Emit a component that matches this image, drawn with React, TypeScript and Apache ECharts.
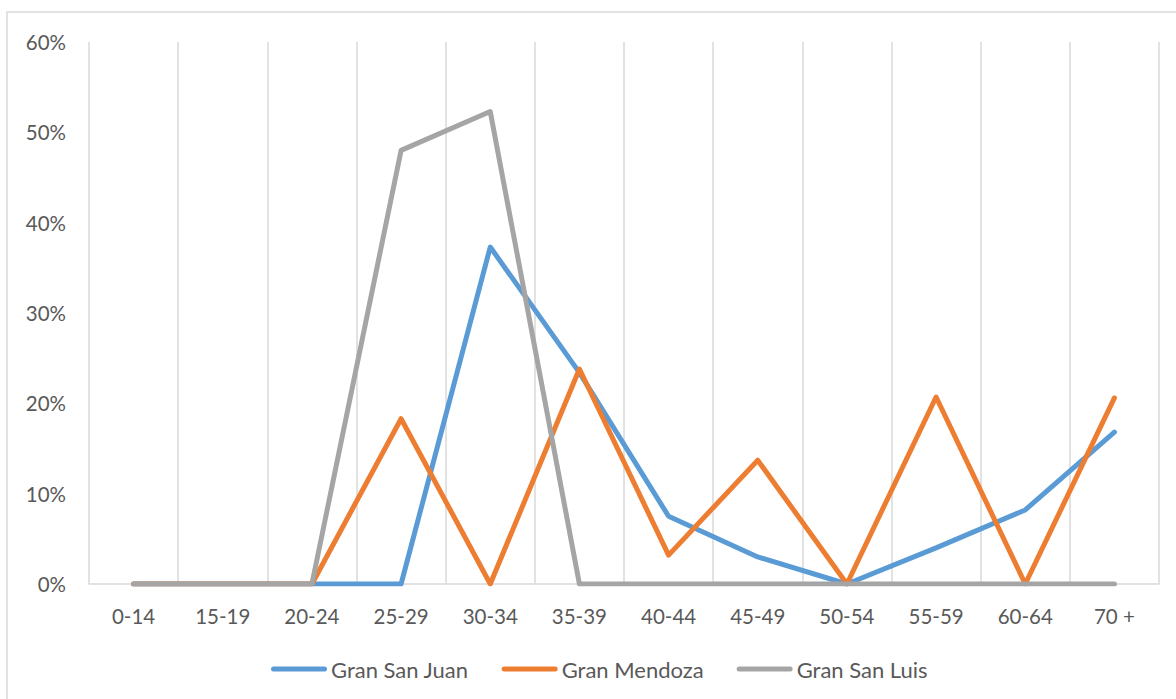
import React, { useEffect, useRef } from "react";
import * as echarts from "echarts";

const categories = ["0-14", "15-19", "20-24", "25-29", "30-34", "35-39", "40-44", "45-49", "50-54", "55-59", "60-64", "70 +"];
const sanJuan = [0, 0, 0, 0, 37.3, 23.4, 7.5, 3.0, 0, 4.0, 8.2, 16.8];
const mendoza = [0, 0, 0, 18.3, 0, 23.8, 3.2, 13.7, 0, 20.7, 0, 20.6];
const sanLuis = [0, 0, 0, 48.0, 52.3, 0, 0, 0, 0, 0, 0, 0];
const seriesNames = ["Gran San Juan", "Gran Mendoza", "Gran San Luis"];
const colors = ["#5B9BD5", "#ED7D31", "#A5A5A5"];

const FONT = "Lato, 'Open Sans', sans-serif";
const TEXT = "#595959";
const GRID = "#D9D9D9";

export default function App() {
  const ref = useRef<HTMLDivElement>(null);
  useEffect(() => {
    if (!ref.current) return;
    const chart = echarts.init(ref.current, undefined, { renderer: "svg" });
    const data = [sanJuan, mendoza, sanLuis];
    chart.setOption({
      animation: false,
      backgroundColor: "#ffffff",
      color: colors,
      graphic: [
        {
          type: "rect",
          shape: { x: 7, y: 12, width: 1300, height: 800 },
          style: { fill: "none", stroke: GRID, lineWidth: 1.5 },
          silent: true,
        },
      ],
      grid: { left: 89, right: 17, top: 42, bottom: 115 },
      legend: {
        left: 266,
        top: 653,
        itemWidth: 56,
        itemHeight: 5,
        itemGap: 33,
        icon: "path://M2.5,0 L53.5,0 A2.5,2.5 0 0 1 53.5,5 L2.5,5 A2.5,2.5 0 0 1 2.5,0 Z",
        textStyle: { color: TEXT, fontSize: 22, fontFamily: FONT, padding: [0, 0, 0, -1] },
        data: seriesNames,
      },
      xAxis: {
        type: "category",
        data: categories,
        boundaryGap: true,
        axisLine: { show: true, lineStyle: { color: GRID, width: 1.5 } },
        axisTick: { show: false },
        splitLine: { show: true, interval: 0, lineStyle: { color: GRID, width: 1.5 } },
        axisLabel: { color: TEXT, fontSize: 20.5, fontFamily: FONT, margin: 21, interval: 0 },
      },
      yAxis: {
        type: "value",
        min: 0,
        max: 60,
        interval: 10,
        axisLine: { show: false },
        axisTick: { show: false },
        splitLine: { show: false },
        axisLabel: { color: TEXT, fontSize: 20.5, fontFamily: FONT, margin: 23, formatter: "{value}%" },
      },
      series: seriesNames.map((name, i) => ({
        name,
        type: "line",
        data: data[i],
        symbol: "none",
        lineStyle: { width: 5, color: colors[i], cap: "round", join: "round" },
        itemStyle: { color: colors[i] },
      })),
    });
    return () => chart.dispose();
  }, []);
  return (
    <div
      ref={ref}
      style={{ position: "fixed", left: 0, top: 0, width: 1176, height: 699, background: "#fff" }}
    />
  );
}
